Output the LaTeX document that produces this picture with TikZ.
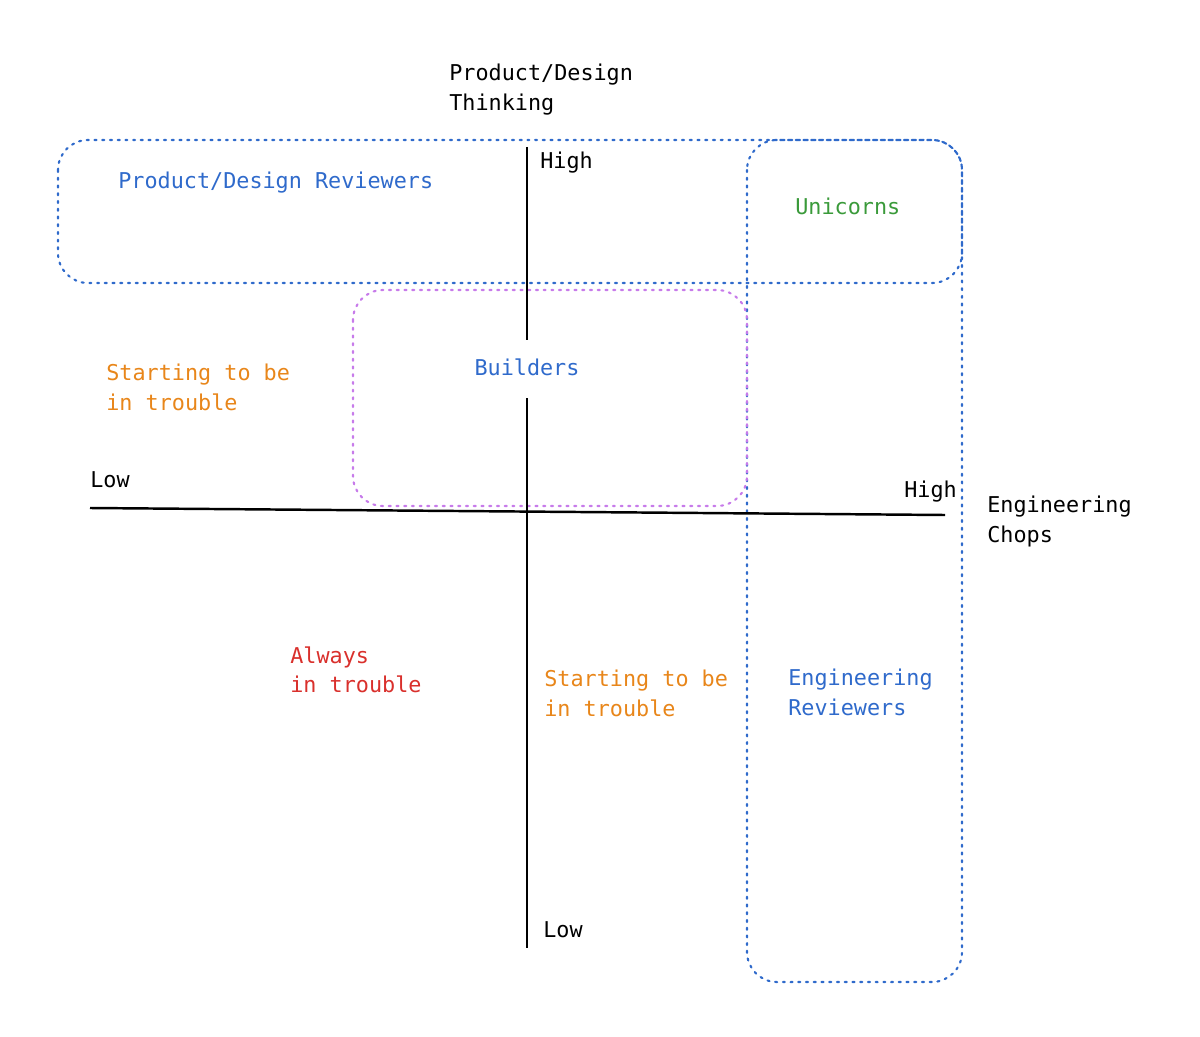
\documentclass[tikz,border=0pt]{standalone}
\usepackage{fontspec}
\setmonofont{DejaVu Sans Mono}
\usetikzlibrary{positioning}
\definecolor{pblue}{HTML}{2F6ACB}
\definecolor{pgreen}{HTML}{3A9A3A}
\definecolor{porange}{HTML}{E8861A}
\definecolor{pred}{HTML}{D9302C}
\definecolor{ppurple}{HTML}{C77BEA}
\tikzset{
    lbl/.style={anchor=north west, align=left, inner sep=0pt,
        font=\ttfamily\fontsize{12.4}{17}\selectfont},
    group/.style={dash pattern=on 1.2pt off 3.2pt, line cap=round, line width=1.2pt, rounded corners=0.6cm}
}
\begin{document}
\begin{tikzpicture}[x=0.02cm, y=-0.02cm]
        \useasboundingbox (0,0) rectangle (1200,1037);
        % groups
        \draw[group, pblue] (58,140) rectangle (962,283);
        \draw[group, pblue] (747,140) rectangle (962,982);
        \draw[group, ppurple] (353,290) rectangle (747,506);
        % axes
        \coordinate (vtop) at (527,147);
        \coordinate (vbot) at (527,948);
        \coordinate (hleft) at (90,508);
        \coordinate (hright) at (945,515);
        \draw[line width=1.4pt] (vtop) -- (527,340);
        \draw[line width=1.4pt] (527,398) -- (vbot);
        \draw[line width=1.4pt] (hleft) -- (hright);
        % axis labels
        \node[lbl] (ytitle) at (449,64) {Product/Design\\Thinking};
        \node[lbl] (yhigh) at (540,152) {High};
        \node[lbl] (ylow) at (543,921) {Low};
        \node[lbl] (xlow) at (90,471) {Low};
        \node[lbl] (xhigh) at (904,481) {High};
        \node[lbl] (xtitle) at (987,496) {Engineering\\Chops};
        % quadrant labels
        \node[lbl, pblue] (pdrev) at (118,172) {Product/Design Reviewers};
        \node[lbl, pgreen] (unicorns) at (795,198) {Unicorns};
        \node[lbl, pblue, anchor=center] (builders) at (527,367) {Builders};
        \node[lbl, porange] (troubleA) at (106,364) {Starting to be\\in trouble};
        \node[lbl, pred] (always) at (290,646) {Always\\in trouble};
        \node[lbl, porange] (troubleB) at (544,670) {Starting to be\\in trouble};
        \node[lbl, pblue] (engrev) at (788,669) {Engineering\\Reviewers};
\end{tikzpicture}
\end{document}
